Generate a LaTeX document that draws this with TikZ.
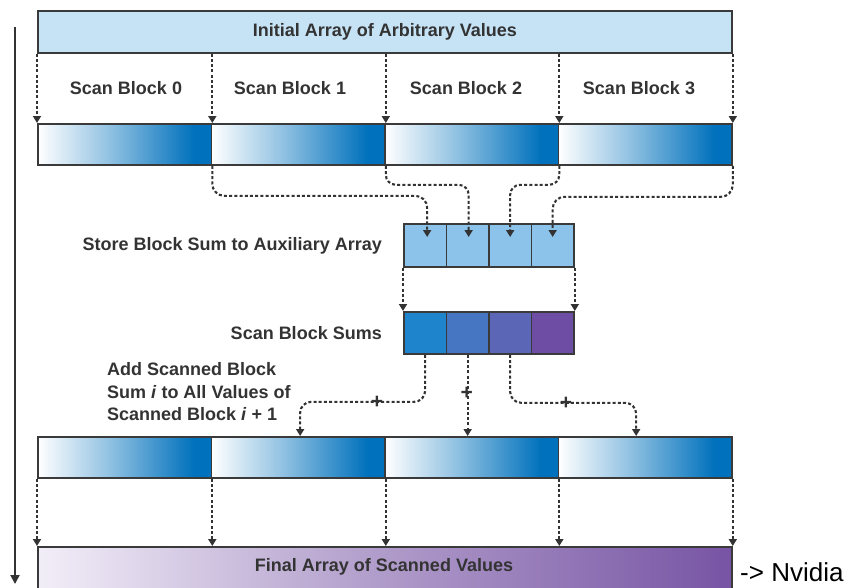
\documentclass[tikz,border=0pt]{standalone}
\usepackage{fontspec}
\setmainfont{Liberation Sans}
\usetikzlibrary{arrows.meta,calc}

\definecolor{txt}{HTML}{333333}
\definecolor{edge}{HTML}{3A3A3A}
\definecolor{paleblue}{HTML}{C6E2F5}
\definecolor{auxblue}{HTML}{8CC3EB}
\definecolor{deepblue}{HTML}{0071BC}
\definecolor{sumA}{HTML}{1E84CC}
\definecolor{sumB}{HTML}{4676C2}
\definecolor{sumC}{HTML}{5C66B6}
\definecolor{sumD}{HTML}{6E4EA4}
\definecolor{lilac}{HTML}{F2EEF8}
\definecolor{purple}{HTML}{7754A4}

% white-to-blue ramp of a scanned block (the path spans 25bp..75bp)
\pgfdeclarehorizontalshading{blockramp}{100bp}{%
  color(0bp)=(white); color(25bp)=(white); color(45bp)=(deepblue!42!white);
  color(70bp)=(deepblue); color(100bp)=(deepblue)}
\pgfdeclarehorizontalshading{finalramp}{100bp}{%
  color(0bp)=(lilac); color(25bp)=(lilac); color(48bp)=(purple!55!white);
  color(75bp)=(purple); color(100bp)=(purple)}

\tikzset{
  box/.style={draw=edge, line width=1.8pt, inner sep=0pt, anchor=north west},
  grad/.style={box, shading=blockramp, minimum width=173.5pt, minimum height=41pt},
  cell/.style={box, minimum width=42.5pt, minimum height=43pt},
  lbl/.style={font=\fontsize{18}{22.5}\selectfont\bfseries, text=txt, inner sep=0pt},
  conn/.style={draw=txt, line width=2.1pt, dash pattern=on 3pt off 2.2pt,
               -{Triangle[width=8pt,length=7pt]}},
  plus/.style={font=\fontsize{21}{21}\selectfont\bfseries, text=txt, inner sep=0pt},
}

\begin{document}
\begin{tikzpicture}[x=1pt,y=-1pt]
\useasboundingbox (0,0) rectangle (858,587);

% time axis on the left
\coordinate (axtop) at (15,27);
\coordinate (axbot) at (15,584);
\draw[draw=txt, line width=1.8pt, -{Triangle[width=9pt,length=9pt]}] (axtop) -- (axbot);

% input array
\node[box, fill=paleblue, minimum width=694pt, minimum height=42pt] (init) at (37,10) {};
\node[lbl] (inittxt) at (init.center) {Initial Array of Arbitrary Values};

% scanned blocks
\node[grad] (a0) at (37,123) {};
\node[grad] (a1) at (210.5,123) {};
\node[grad] (a2) at (384,123) {};
\node[grad] (a3) at (557.5,123) {};

\node[lbl] (sb0) at (126,88) {Scan Block 0};
\node[lbl] (sb1) at (290,88) {Scan Block 1};
\node[lbl] (sb2) at (466,88) {Scan Block 2};
\node[lbl] (sb3) at (639,88) {Scan Block 3};

\draw[conn] (init.south west) -- (a0.north west);
\draw[conn] (a0.north east |- init.south) -- (a0.north east);
\draw[conn] (a1.north east |- init.south) -- (a1.north east);
\draw[conn] (a2.north east |- init.south) -- (a2.north east);
\draw[conn] (a3.north east |- init.south) -- (a3.north east);

% auxiliary array of block sums
\node[cell, fill=auxblue] (c1) at (403,223) {};
\node[cell, fill=auxblue] (c2) at (445.5,223) {};
\node[cell, fill=auxblue] (c3) at (488,223) {};
\node[cell, fill=auxblue] (c4) at (530.5,223) {};
\node[lbl, anchor=east] (storetxt) at (382,246) {Store Block Sum to Auxiliary Array};

\draw[conn, rounded corners=12pt] (a0.south east) -- ++(0,30) -| ($(c1.north)+(2,14)$);
\draw[conn, rounded corners=10pt] (a1.south east) -- ++(0,19) -| ($(c2.north)+(1,14)$);
\draw[conn, rounded corners=10pt] (a2.south east) -- ++(0,19) -| ($(c3.north)+(0,14)$);
\draw[conn, rounded corners=12pt] (a3.south east) -- ++(0,31) -| ($(c4.north)+(0,14)$);

% scanned block sums
\node[cell, fill=sumA, minimum height=42pt] (s1) at (403,311) {};
\node[cell, fill=sumB, minimum height=42pt] (s2) at (445.5,311) {};
\node[cell, fill=sumC, minimum height=42pt] (s3) at (488,311) {};
\node[cell, fill=sumD, minimum height=42pt] (s4) at (530.5,311) {};
\node[lbl, anchor=east] (sumtxt) at (382,333) {Scan Block Sums};

\draw[conn] (c1.south west) -- (s1.north west);
\draw[conn] (c4.south east) -- (s4.north east);

% second pass: add block sums
\node[lbl, anchor=west, align=left] (addtxt) at (107,392)
  {Add Scanned Block\\Sum \textit{i} to All Values of\\Scanned Block \textit{i} + 1};

\node[grad] (b0) at (37,436) {};
\node[grad] (b1) at (210.5,436) {};
\node[grad] (b2) at (384,436) {};
\node[grad] (b3) at (557.5,436) {};

\draw[conn, rounded corners=11pt] (s1.south) -- ++(0,47) -| ([xshift=2pt]b1.north);
\draw[conn] (s2.south) -- (s2.south |- b2.north);
\draw[conn, rounded corners=11pt] (s3.south) -- ++(0,48) -| ([xshift=-9pt]b3.north);

\node[plus] (p1) at (377,402) {+};
\node[plus] (p2) at (466.75,393) {+};
\node[plus] (p3) at (566,403) {+};

% final output array
\node[box, shading=finalramp, minimum width=694pt, minimum height=52pt] (final) at (37,546) {};
\node[lbl] (finaltxt) at (384,567) {Final Array of Scanned Values};

\draw[conn] (b0.south west) -- (b0.south west |- final.north);
\draw[conn] (b0.south east) -- (b0.south east |- final.north);
\draw[conn] (b1.south east) -- (b1.south east |- final.north);
\draw[conn] (b2.south east) -- (b2.south east |- final.north);
\draw[conn] (b3.south east) -- (b3.south east |- final.north);

\node[anchor=base west, inner sep=0pt, font=\fontsize{26}{28}\selectfont, text=black] (nv) at (740,581) {-> Nvidia};
\end{tikzpicture}
\end{document}
